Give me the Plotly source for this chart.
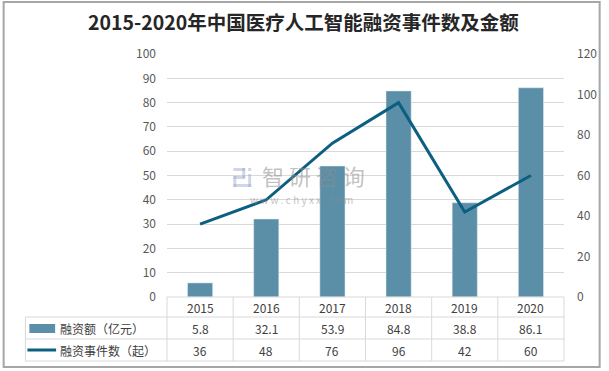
import plotly.graph_objects as go

years = ["2015", "2016", "2017", "2018", "2019", "2020"]
amount = [5.8, 32.1, 53.9, 84.8, 38.8, 86.1]       # 融资额（亿元）
events = [36, 48, 76, 96, 42, 60]                   # 融资事件数（起）
left_ticks = [0, 10, 20, 30, 40, 50, 60, 70, 80, 90, 100]
right_ticks = [0, 20, 40, 60, 80, 100, 120]
title = "2015-2020年中国医疗人工智能融资事件数及金额"
name_amount = "融资额（亿元）"
name_events = "融资事件数（起）"

W, H = 609, 371
ML, MR, MT, MB = 167, 41, 54, 74
PW, PH = W - ML - MR, H - MT - MB

def px(x):
    return (x - ML) / PW

def py(y):
    return (H - MB - y) / PH

BAR = "#5b8fa8"
LINE = "#0c5f80"
FONT = "Noto Sans CJK SC, Microsoft YaHei, sans-serif"
xs = list(range(len(years)))
n = len(years)

fig = go.Figure()
fig.add_trace(go.Bar(x=xs, y=amount, name=name_amount, marker_color=BAR,
                     width=0.38, yaxis="y"))
fig.add_trace(go.Scatter(x=xs, y=events, name=name_events, mode="lines",
                         line=dict(color=LINE, width=3), yaxis="y2"))

shapes = []
ann = []
gridc = "#d9d9d9"
y_top, y_h, y_r1, y_r2 = 297, 317, 339, 361

def hline(x0, x1, y):
    shapes.append(dict(type="line", xref="paper", yref="paper", x0=x0, x1=x1,
                       y0=py(y), y1=py(y), line=dict(color=gridc, width=1)))

def vline(x, y0, y1):
    shapes.append(dict(type="line", xref="paper", yref="paper", x0=x, x1=x,
                       y0=py(y0), y1=py(y1), line=dict(color=gridc, width=1)))

hline(0, 1, y_top)
hline(px(24), 1, y_h)
hline(px(24), 1, y_r1)
hline(px(24), 1, y_r2)
vline(px(24), y_h, y_r2)
for i in range(n + 1):
    vline(i / n, y_top, y_r2)

# outer border
shapes.append(dict(type="rect", xref="paper", yref="paper", x0=px(2), x1=px(604),
                   y0=py(2), y1=py(367), line=dict(color="#a6a6a6", width=2)))

# legend swatches
shapes.append(dict(type="rect", xref="paper", yref="paper", x0=px(28), x1=px(54),
                   y0=py(324), y1=py(333), fillcolor=BAR, line=dict(width=0)))
shapes.append(dict(type="line", xref="paper", yref="paper", x0=px(26), x1=px(55),
                   y0=py(350), y1=py(350), line=dict(color=LINE, width=3)))

# watermark logo (simple blocks)
logo_c = "rgba(150,165,205,0.45)"
for (x0, y0, x1, y1) in [(234, 168, 246, 171), (243, 168, 246, 178), (234, 176, 246, 179),
                         (234, 176, 237, 187), (234, 184, 252, 187), (249, 168, 252, 171),
                         (249, 174, 252, 187)]:
    shapes.append(dict(type="rect", xref="paper", yref="paper", x0=px(x0), x1=px(x1),
                       y0=py(y0), y1=py(y1), fillcolor=logo_c, line=dict(width=0), layer="above"))

tc = "#404040"
def cell(x, y, text, xref="x", xanchor="center"):
    ann.append(dict(x=x, y=py(y), xref=xref, yref="paper", text=text, xanchor=xanchor,
                    yanchor="middle", showarrow=False,
                    font=dict(size=12, color=tc, family=FONT)))

for i, yv in enumerate(years):
    cell(i, (y_top + y_h) / 2, yv)
    cell(i, (y_h + y_r1) / 2, str(amount[i]))
    cell(i, (y_r1 + y_r2) / 2, str(events[i]))
cell(px(57), (y_h + y_r1) / 2, name_amount, xref="paper", xanchor="left")
cell(px(57), (y_r1 + y_r2) / 2, name_events, xref="paper", xanchor="left")

# title
ann.append(dict(x=px(305), y=py(22), xref="paper", yref="paper", text="<b>" + title + "</b>",
                xanchor="center", yanchor="middle",
                showarrow=False, font=dict(size=19.5, color="#262626", family=FONT)))

# watermark text
ann.append(dict(x=px(315), y=py(175), xref="paper", yref="paper", text="智 研 咨 询",
                xanchor="center", yanchor="middle", showarrow=False,
                font=dict(size=22, color="rgba(140,140,140,0.55)", family=FONT)))
ann.append(dict(x=px(303), y=py(200), xref="paper", yref="paper",
                text="w w w . c h y x x . c o m",
                xanchor="center", yanchor="middle", showarrow=False,
                font=dict(size=10, color="rgba(140,140,140,0.55)", family=FONT)))

fig.update_layout(
    width=W, height=H,
    margin=dict(l=ML, r=MR, t=MT, b=MB),
    paper_bgcolor="white", plot_bgcolor="white",
    showlegend=False,
    xaxis=dict(range=[-0.5, 5.5], showticklabels=False, showgrid=False,
               zeroline=False, fixedrange=True),
    yaxis=dict(range=[0, 100], tickvals=left_ticks, showgrid=True, gridcolor=gridc,
               gridwidth=1, zeroline=False, ticks="",
               tickfont=dict(size=12, color="#595959", family=FONT),
               ticklabelstandoff=10),
    yaxis2=dict(range=[0, 120], tickvals=right_ticks, overlaying="y", side="right",
                showgrid=False, zeroline=False, ticks="",
                tickfont=dict(size=12, color="#595959", family=FONT), ticklabelstandoff=12),
    shapes=shapes, annotations=ann,
    font=dict(family=FONT),
)

fig.write_html("out.html", config={"displayModeBar": False},
               post_script="document.body.style.margin='0';")
